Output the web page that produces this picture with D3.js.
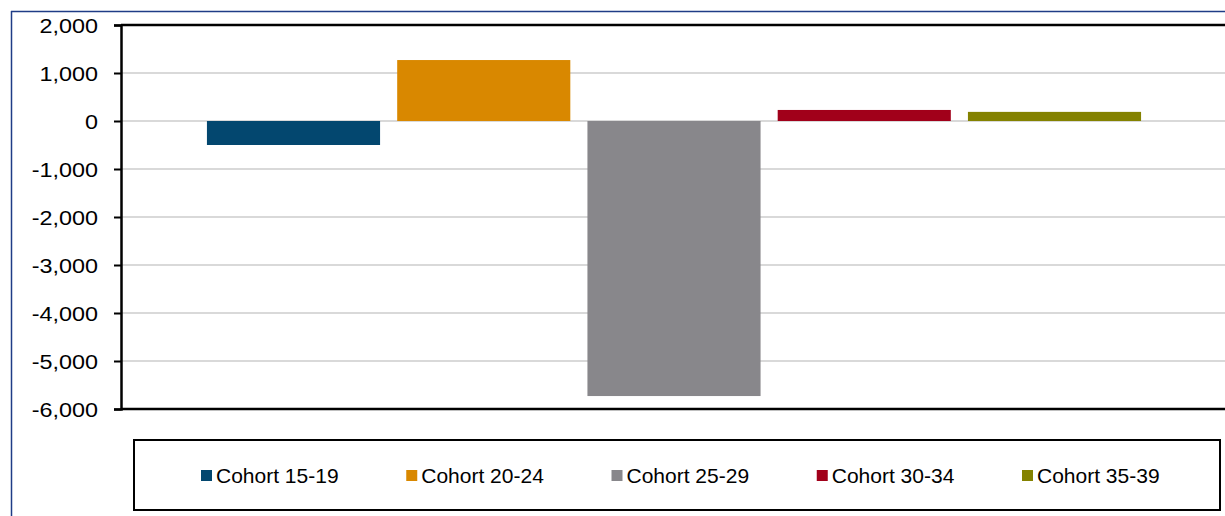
<!DOCTYPE html>
<html>
<head>
<meta charset="utf-8">
<script src="https://cdn.jsdelivr.net/npm/d3@7"></script>
<style>
  html, body { margin: 0; padding: 0; background: #fff; }
  svg { display: block; font-family: "Liberation Sans", Arial, sans-serif; }
</style>
</head>
<body>
<svg id="chart" width="1225" height="516"></svg>
<script>
// Net change by age cohort
const cohorts = ["Cohort 15-19", "Cohort 20-24", "Cohort 25-29", "Cohort 30-34", "Cohort 35-39"];
const values  = [-500, 1270, -5730, 230, 190];
const colors  = ["#03476f", "#d98800", "#88878b", "#a1001a", "#848200"];
const yTicks  = [2000, 1000, 0, -1000, -2000, -3000, -4000, -5000, -6000];

const svg = d3.select("#chart");
const W = 1225, H = 516;

const plot = { left: 121, right: 1227, top: 25, bottom: 409 };

const y = d3.scaleLinear().domain([-6000, 2000]).range([plot.bottom, plot.top]);

// one category group, split into a band per cohort
const x0 = d3.scaleBand().domain(["all"]).range([plot.left, plot.right]).paddingOuter(0.092);
const x1 = d3.scaleBand().domain(cohorts)
  .range([x0("all"), x0("all") + x0.bandwidth()])
  .paddingInner(0.09);

// thousands separator with a plain hyphen for negatives
const fmt = d => (d < 0 ? "-" : "") + d3.format(",")(Math.abs(d));

// outer frame
svg.append("line").attr("x1", 11).attr("x2", W).attr("y1", 11.5).attr("y2", 11.5)
  .attr("stroke", "#1f3c86").attr("stroke-width", 1.5);
svg.append("line").attr("x1", 11.5).attr("x2", 11.5).attr("y1", 11).attr("y2", H)
  .attr("stroke", "#1f3c86").attr("stroke-width", 1.5);

// gridlines
svg.append("g").selectAll("line")
  .data(yTicks.filter(t => t !== 2000 && t !== -6000))
  .join("line")
  .attr("x1", plot.left).attr("x2", W)
  .attr("y1", d => y(d)).attr("y2", d => y(d))
  .attr("stroke", "#d9d9d9").attr("stroke-width", 2);

// bars
svg.append("g").selectAll("rect")
  .data(cohorts.map((c, i) => ({ c, v: values[i], col: colors[i] })))
  .join("rect")
  .attr("x", d => x1(d.c))
  .attr("width", x1.bandwidth())
  .attr("y", d => y(Math.max(0, d.v)))
  .attr("height", d => Math.abs(y(d.v) - y(0)))
  .attr("fill", d => d.col);

// plot borders: top and bottom
svg.append("line").attr("x1", plot.left).attr("x2", W).attr("y1", y(2000)).attr("y2", y(2000))
  .attr("stroke", "#000").attr("stroke-width", 2.5);
svg.append("line").attr("x1", plot.left).attr("x2", W).attr("y1", y(-6000)).attr("y2", y(-6000))
  .attr("stroke", "#000").attr("stroke-width", 2.5);

// y axis
const yAxis = svg.append("g")
  .attr("transform", `translate(${plot.left},0)`)
  .call(d3.axisLeft(y).tickValues(yTicks).tickSize(7).tickFormat(fmt));
yAxis.select(".domain").attr("stroke", "#000").attr("stroke-width", 2.5);
yAxis.selectAll(".tick line").attr("stroke", "#000").attr("stroke-width", 2);
yAxis.selectAll(".tick text")
  .attr("x", 0)
  .attr("transform", "translate(-23,0) scale(1.14,1)")
  .attr("dy", "0.36em")
  .attr("fill", "#000")
  .style("font-size", "20.5px")
  .style("font-family", "'Liberation Sans', Arial, sans-serif");

// legend
const legend = svg.append("g");
legend.append("rect")
  .attr("x", 134).attr("y", 440).attr("width", 1086).attr("height", 70)
  .attr("fill", "#fff").attr("stroke", "#000").attr("stroke-width", 2);

const lx = d3.scalePoint().domain(cohorts).range([201, 1022]);
const item = legend.selectAll("g.item")
  .data(cohorts.map((c, i) => ({ c, col: colors[i] })))
  .join("g").attr("class", "item")
  .attr("transform", d => `translate(${lx(d.c)},475)`);
item.append("rect").attr("x", 0).attr("y", -5).attr("width", 11).attr("height", 11)
  .attr("fill", d => d.col);
item.append("text").attr("x", 15).attr("dy", "0.36em")
  .style("font-size", "21px").attr("fill", "#000")
  .text(d => d.c);
</script>
</body>
</html>
